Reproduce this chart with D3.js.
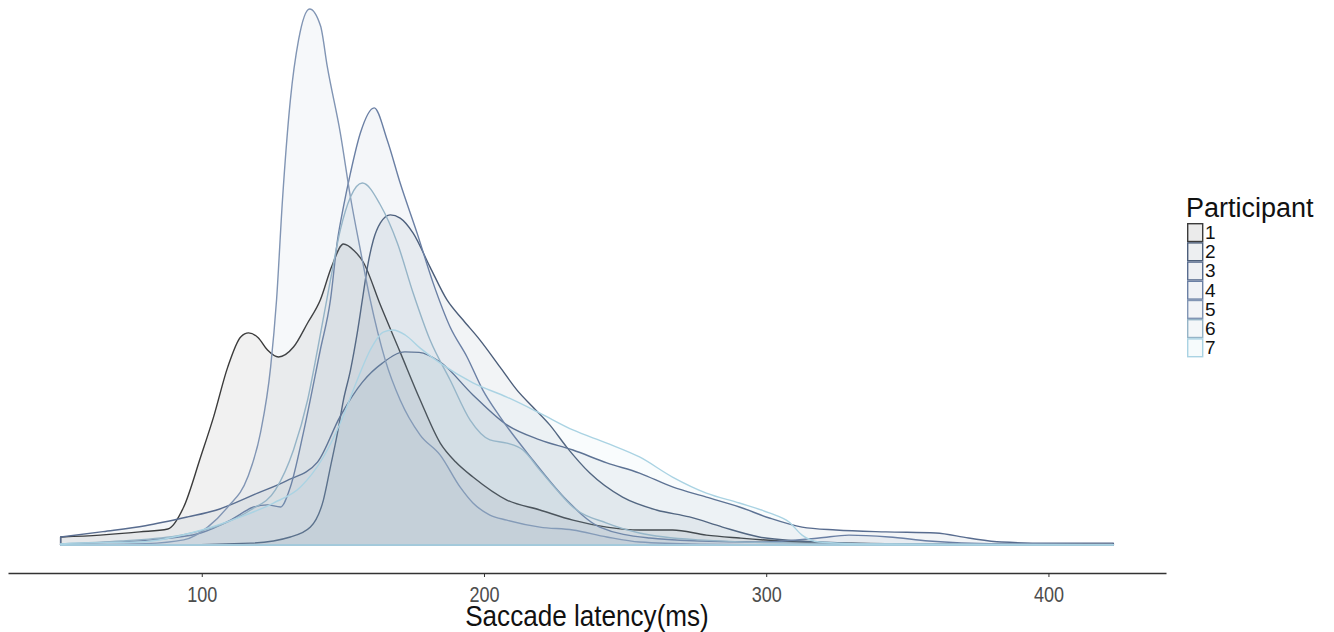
<!DOCTYPE html>
<html>
<head>
<meta charset="utf-8">
<script src="https://d3js.org/d3.v7.min.js"></script>
<style>
  body { margin: 0; background: #fff; }
  text { font-family: "Liberation Sans", Arial, sans-serif; }
</style>
</head>
<body>
<div id="chart"></div>
<script>
// density estimates: [latency ms, density x 1e-3]
var p1 = [[50,0.30],[64,0.37],[78,0.49],[88,0.60],[93.6,1.42],[99.6,3.29],[104.2,4.79],[109.2,6.65],[113.8,7.78],[116.6,7.93],[120,7.75],[123.3,7.29],[127.2,7.03],[132.5,7.40],[137.5,8.30],[142,9.16],[146,10.4],[150.2,11.25],[154,11.0],[157.2,10.58],[163.3,8.97],[170.3,7.21],[177.4,5.42],[184.5,3.81],[190,3.1],[196.1,2.54],[208.1,1.68],[219.8,1.31],[231.5,0.93],[243.5,0.67],[255.1,0.56],[266.8,0.56],[278.8,0.37],[290.5,0.26],[311.7,0.11],[347,0.04],[380,0.02],[423,0.02]];
var p2 = [[50,0],[82,0],[117.3,0.07],[131.4,0.30],[138.5,0.67],[143.1,1.68],[145.6,2.92],[148.1,4.19],[150.2,5.42],[152.7,6.54],[155.1,7.93],[156.9,9.16],[158.7,10.39],[160.8,11.40],[163.3,12.04],[166.8,12.34],[170.3,12.22],[174.9,11.66],[180.9,10.39],[186.9,9.16],[192.6,8.41],[198.6,7.66],[205.7,6.65],[211.7,5.79],[217.3,5.16],[223.3,4.49],[229.3,3.66],[237.5,2.69],[249.1,1.79],[261.1,1.31],[272.8,1.05],[284.5,0.67],[297.5,0.30],[311.7,0.15],[329.3,0.07],[347,0.04],[423,0.01]];
var p3 = [[50,0.30],[65,0.5],[80,0.72],[95,1.05],[105,1.3],[120,1.95],[130,2.4],[141,3.1],[149,4.8],[157,6.1],[164,6.8],[172,7.22],[177,7.2],[184.5,6.84],[196.1,5.61],[208.1,4.49],[219.8,3.93],[231.5,3.55],[243.5,3.07],[255.1,2.69],[266.8,2.17],[278.8,1.79],[290.5,1.42],[301.1,1.01],[312.7,0.67],[324.7,0.56],[342.4,0.49],[360.1,0.45],[371.7,0.26],[383.4,0.11],[400,0.07],[423,0.07]];
var p4 = [[50,0.04],[82,0.19],[99.6,0.45],[110.2,0.93],[118.4,1.42],[123.3,1.50],[127.9,1.42],[131.4,2.17],[136,4.19],[142,7.29],[145.6,9.16],[148.1,11.40],[150.2,12.64],[152.7,13.91],[156.2,15.40],[161.1,16.34],[165.7,15.14],[170.3,13.53],[176.3,11.66],[182,9.79],[188,8.15],[194,7.03],[199.6,5.79],[205.7,4.79],[217.3,3.18],[229.3,1.68],[241,0.67],[258.7,0.26],[276.3,0.15],[297.5,0.11],[318.7,0.26],[329.3,0.37],[343.5,0.30],[357.6,0.15],[382.3,0.04],[423,0.01]];
var p5 = [[50,0.02],[64.3,0.02],[80,0.05],[93.6,0.19],[102.1,0.67],[109.2,1.42],[116.3,2.54],[120.8,4.19],[124.4,6.65],[126.5,9.16],[128.6,12.9],[131.4,16.64],[134.3,18.88],[138.2,20.04],[142.1,19.4],[144.5,17.87],[149.1,15.4],[152.7,13.0],[156.2,11.03],[159.7,9.16],[165,6.92],[170.3,5.42],[177.4,4.11],[184.5,3.36],[191.5,2.17],[196.1,1.57],[202.1,1.12],[208.1,0.93],[219.8,0.67],[231.5,0.56],[243.5,0.30],[255.1,0.11],[276.3,0.03],[300,0.01],[423,0]];
var p6 = [[50,0.04],[71.4,0.15],[92.6,0.37],[106.7,0.75],[117.3,1.31],[126.1,2.06],[132.5,3.55],[137.5,5.42],[141,7.29],[145.6,9.91],[149.1,11.78],[152.7,13.01],[156.9,13.53],[163.3,12.71],[169.3,11.29],[174.9,9.42],[180.9,7.66],[188,6.17],[195.1,4.67],[202.1,3.93],[208.1,3.81],[213.8,3.55],[219.8,2.80],[225.8,2.06],[231.5,1.42],[243.5,0.82],[255.1,0.45],[276.3,0.19],[311.7,0.07],[423,0.01]];
var p7 = [[50,0.04],[54.8,0.07],[78.4,0.11],[96.1,0.45],[113.8,1.05],[125.4,1.57],[135,2.17],[143.1,3.29],[149.1,4.56],[155.1,6.17],[159.7,7.29],[164.3,7.96],[167.8,8.04],[172.1,7.85],[177.4,7.36],[184.5,6.80],[196.1,6.06],[208.1,5.53],[219.8,4.93],[231.5,4.30],[243.5,3.81],[255.1,3.29],[266.8,2.54],[278.8,1.94],[290.5,1.57],[301.1,1.20],[308.1,0.86],[312.7,0.37],[318.7,0.11],[332.9,0.04],[423,0.01]];

var participants = ["1", "2", "3", "4", "5", "6", "7"];
var series = [p1, p2, p3, p4, p5, p6, p7];
var xTicks = [100, 200, 300, 400];

var colours = ["#3b3b3b", "#4c5e7a", "#586c8f", "#6a7fa4", "#8195b4", "#95b4c7", "#aad3e3"];

var width = 1334, height = 632;

var svg = d3.select("#chart")
  .append("svg")
    .attr("width", width)
    .attr("height", height);

// x scale with ggplot-like 5% expansion around the data range
var xmin = d3.min(series, function(s) { return s[0][0]; }),
    xmax = d3.max(series, function(s) { return s[s.length - 1][0]; }),
    pad = (xmax - xmin) * 0.05;
var x = d3.scaleLinear()
  .domain([xmin - pad, xmax + pad])
  .range([8, 1166]);

var y = d3.scaleLinear()
  .domain([0, 20])
  .range([545, 10]);

var area = d3.area()
  .curve(d3.curveMonotoneX)
  .x(function(d) { return x(d[0]); })
  .y0(y(0))
  .y1(function(d) { return y(d[1]); });

series.forEach(function(s, i) {
  svg.append("path")
    .datum(s)
    .attr("d", area)
    .attr("fill", colours[i])
    .attr("fill-opacity", 0.07)
    .attr("stroke", colours[i])
    .attr("stroke-width", 1.4)
    .attr("stroke-linejoin", "round");
});

// x axis
var axis = svg.append("g")
  .attr("transform", "translate(0,573)")
  .call(d3.axisBottom(x).tickValues(xTicks).tickSize(4).tickSizeOuter(0));
axis.select(".domain").attr("stroke", "#333").attr("stroke-width", 1.6);
axis.selectAll(".tick line").attr("stroke", "#333");
axis.selectAll(".tick text")
  .attr("fill", "#4d4d4d")
  .attr("y", 0)
  .attr("dy", 0)
  .attr("transform", "translate(0,29) scale(0.82,1)")
  .style("font-size", "22px");

// axis title, squeezed horizontally like the original
svg.append("g")
  .attr("transform", "translate(" + x((xmin + xmax) / 2) + ",626) scale(0.9,1)")
  .append("text")
  .attr("text-anchor", "middle")
  .style("font-size", "29px")
  .attr("fill", "#111")
  .text("Saccade latency(ms)");

// legend
var legend = svg.append("g").attr("transform", "translate(1187,0)");
legend.append("text")
  .attr("x", -1)
  .attr("y", 217)
  .style("font-size", "27px")
  .attr("fill", "#111")
  .text("Participant");

participants.forEach(function(p, i) {
  var ky = 223 + i * 19.2;
  legend.append("rect")
    .attr("x", 0.7)
    .attr("y", ky + 0.7)
    .attr("width", 15)
    .attr("height", 17.8)
    .attr("fill", colours[i])
    .attr("fill-opacity", 0.1)
    .attr("stroke", colours[i])
    .attr("stroke-width", 1.4);
  legend.append("text")
    .attr("x", 18)
    .attr("y", ky + 16)
    .style("font-size", "19px")
    .attr("fill", "#111")
    .text(p);
});
</script>
</body>
</html>
